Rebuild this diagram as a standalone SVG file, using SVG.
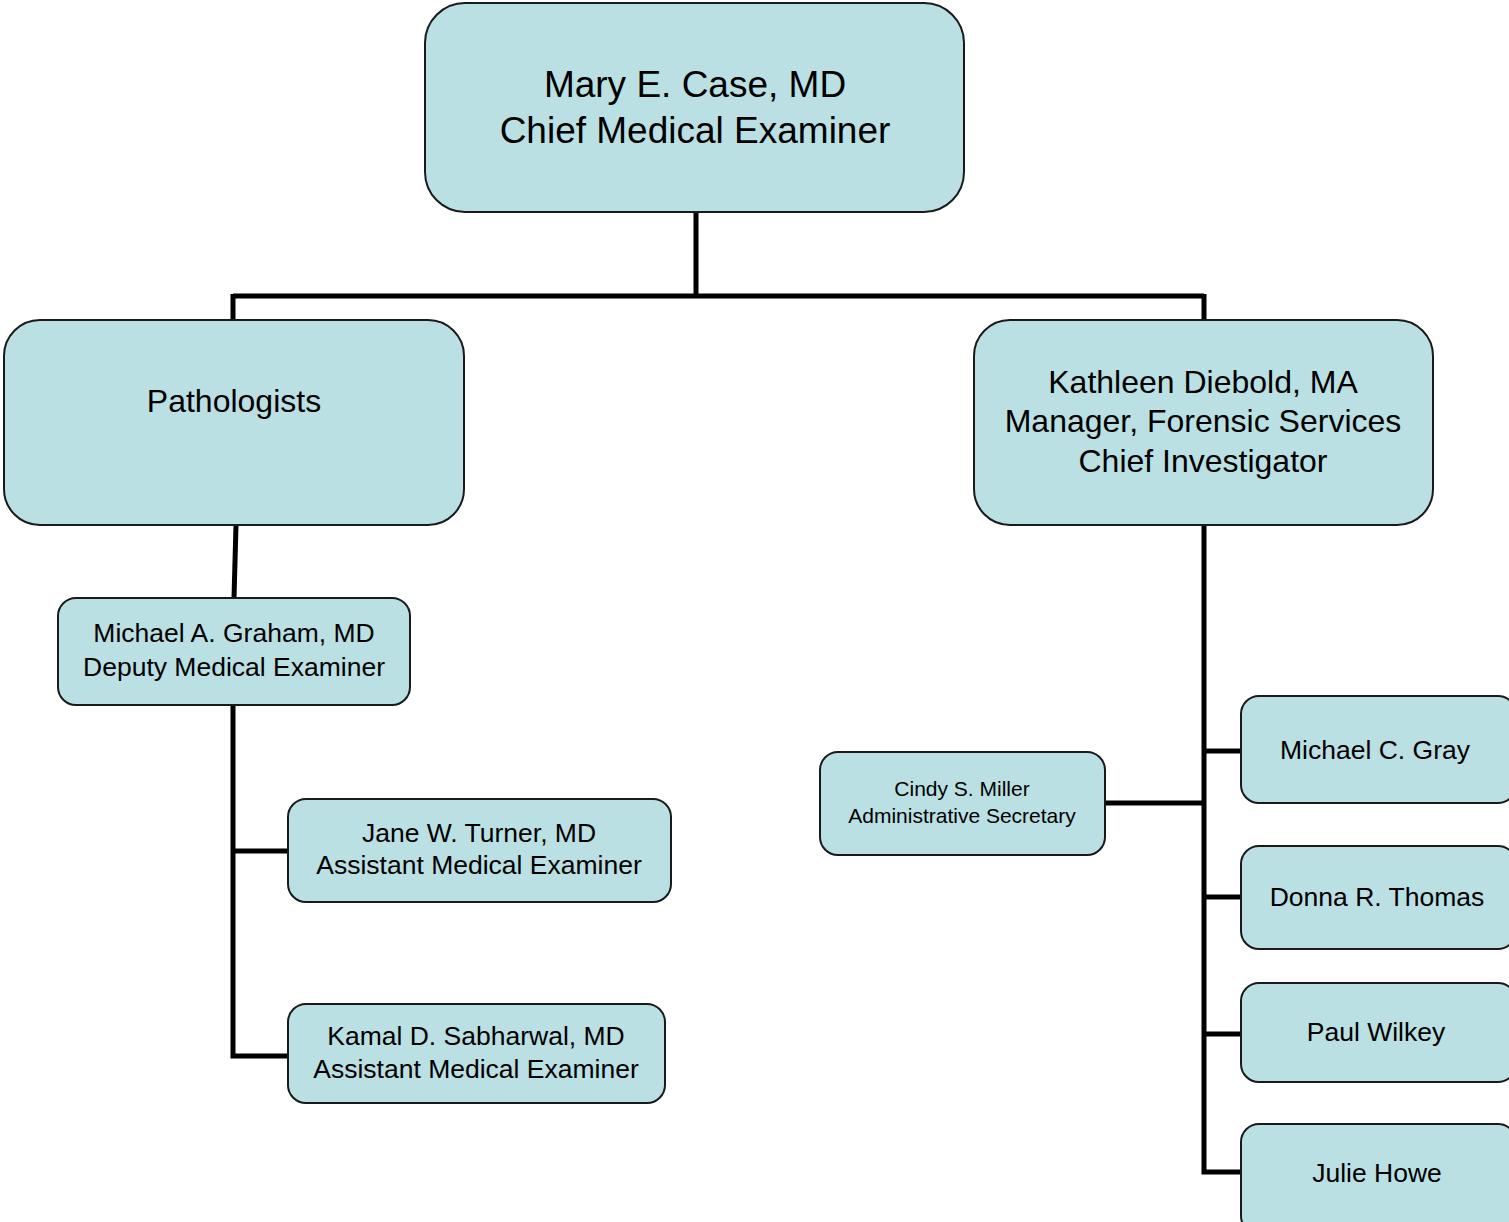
<svg xmlns="http://www.w3.org/2000/svg" width="1509" height="1222" viewBox="0 0 1509 1222">
<style>
.box{fill:#bae0e3;stroke:#1a1a1a;stroke-width:2}
.t{font-family:"Liberation Sans",Arial,sans-serif;fill:#000;text-anchor:middle}
.c{stroke:#000;stroke-width:5;fill:none}
</style>
<rect width="1509" height="1222" fill="#fff"/>
<g id="connectors">
<path class="c" d="M696 212V296M233 296H1204M233 294V320M1204 294V320"/>
<path class="c" d="M236 525L234 598"/>
<path class="c" d="M233 705V1056H288M233 851H288"/>
<path class="c" d="M1204 525V1172H1241M1204 751H1241M1204 897H1241M1204 1034H1241M1105 803H1204"/>
</g>
<g id="chief">
<rect class="box" x="425" y="3" width="539" height="209" rx="40"/>
<text class="t" font-size="37" x="695" y="97">Mary E. Case, MD</text>
<text class="t" font-size="37" x="695" y="143">Chief Medical Examiner</text>
</g>
<g id="pathologists">
<rect class="box" x="4" y="320" width="460" height="205" rx="36"/>
<text class="t" font-size="32" x="234" y="412">Pathologists</text>
</g>
<g id="diebold">
<rect class="box" x="974" y="320" width="459" height="205" rx="36"/>
<text class="t" font-size="32" x="1203" y="393">Kathleen Diebold, MA</text>
<text class="t" font-size="32" x="1203" y="432">Manager, Forensic Services</text>
<text class="t" font-size="32" x="1203" y="472">Chief Investigator</text>
</g>
<g id="graham">
<rect class="box" x="58" y="598" width="352" height="107" rx="18"/>
<text class="t" font-size="26.5" x="234" y="642">Michael A. Graham, MD</text>
<text class="t" font-size="26.5" x="234" y="676">Deputy Medical Examiner</text>
</g>
<g id="turner">
<rect class="box" x="288" y="799" width="383" height="103" rx="18"/>
<text class="t" font-size="26.5" x="479" y="842">Jane W. Turner, MD</text>
<text class="t" font-size="26.5" x="479" y="874">Assistant Medical Examiner</text>
</g>
<g id="sabharwal">
<rect class="box" x="288" y="1004" width="377" height="99" rx="18"/>
<text class="t" font-size="26.5" x="476" y="1045">Kamal D. Sabharwal, MD</text>
<text class="t" font-size="26.5" x="476" y="1078">Assistant Medical Examiner</text>
</g>
<g id="miller">
<rect class="box" x="820" y="752" width="285" height="103" rx="18"/>
<text class="t" font-size="21" x="962" y="796">Cindy S. Miller</text>
<text class="t" font-size="21" x="962" y="823">Administrative Secretary</text>
</g>
<g id="gray">
<rect class="box" x="1241" y="696" width="275" height="107" rx="18"/>
<text class="t" font-size="26.5" x="1375" y="759">Michael C. Gray</text>
</g>
<g id="thomas">
<rect class="box" x="1241" y="846" width="275" height="103" rx="18"/>
<text class="t" font-size="26.5" x="1377" y="906">Donna R. Thomas</text>
</g>
<g id="wilkey">
<rect class="box" x="1241" y="983" width="275" height="99" rx="18"/>
<text class="t" font-size="26.5" x="1376" y="1041">Paul Wilkey</text>
</g>
<g id="howe">
<rect class="box" x="1241" y="1124" width="275" height="110" rx="18"/>
<text class="t" font-size="26.5" x="1377" y="1182">Julie Howe</text>
</g>
</svg>
